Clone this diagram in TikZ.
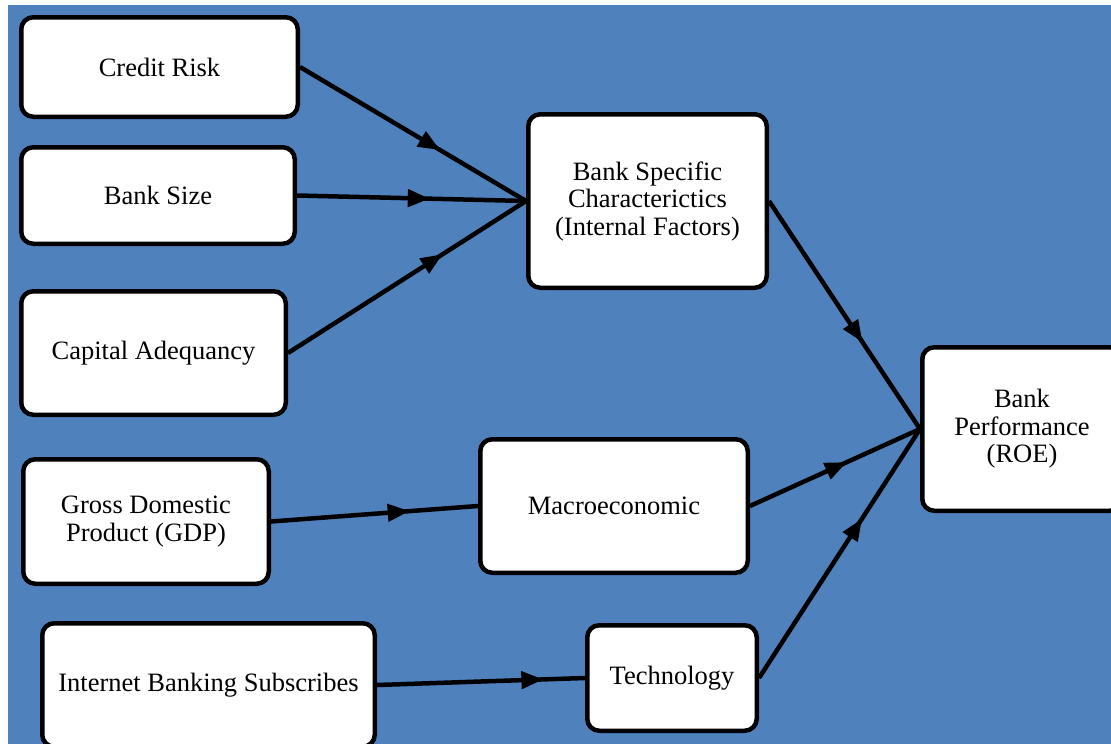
\documentclass[tikz,border=0pt]{standalone}
\usepackage{fontspec}
\setmainfont{Liberation Serif}
\usetikzlibrary{arrows.meta,decorations.markings}
\definecolor{bgblue}{RGB}{79,129,189}
\tikzset{
  box/.style={draw=black, fill=white, line width=4.5pt, rounded corners=12pt,
    align=center, inner sep=0pt, font=\fontsize{26.5}{27.5}\selectfont},
  conn/.style={line width=4.5pt, draw=black},
  midarrow/.style={postaction={decorate,decoration={markings,
    mark=at position #1 with {\arrow{Triangle[length=22pt,width=17pt]}}}}}
}
\begin{document}
\begin{tikzpicture}[x=1pt,y=-1pt]
\useasboundingbox (0,0) rectangle (1111,744);
\fill[bgblue] (8,5) rectangle (1111,744);

\node[box, minimum width=276.5pt, minimum height=99.5pt] (cr) at (159.5,67) {Credit Risk};
\node[box, minimum width=273.5pt, minimum height=96.5pt] (bs) at (158,195.5) {Bank Size};
\node[box, minimum width=264.5pt, minimum height=123.5pt] (ca) at (153.5,353) {Capital Adequancy};
\node[box, minimum width=245.5pt, minimum height=124.5pt] (gdp) at (146,521.5) {Gross Domestic\\Product (GDP)};
\node[box, minimum width=332.5pt, minimum height=123.5pt] (ibs) at (208.5,685) {Internet Banking Subscribes};
\node[box, minimum width=238.5pt, minimum height=173.5pt] (bsc) at (647.5,201) {Bank Specific\\Characterictics\\(Internal Factors)};
\node[box, minimum width=267.5pt, minimum height=133.5pt] (mac) at (614,506) {Macroeconomic};
\node[box, minimum width=169.5pt, minimum height=105.5pt] (tech) at (672,678) {Technology};
\node[box, minimum width=199.5pt, minimum height=163.5pt] (bp) at (1022,429) {Bank\\Performance\\(ROE)};

\draw[conn, midarrow=0.62] (cr.east) -- (bsc.west);
\draw[conn, midarrow=0.58] (bs.east) -- (bsc.west);
\draw[conn, midarrow=0.65] (ca.east) -- (bsc.west);
\draw[conn, midarrow=0.62] (bsc.east) -- (bp.west);
\draw[conn, midarrow=0.57] (mac.east) -- (bp.west);
\draw[conn, midarrow=0.64] (tech.east) -- (bp.west);
\draw[conn, midarrow=0.67] (gdp.east) -- (mac.west);
\draw[conn, midarrow=0.80] (ibs.east) -- (tech.west);
\end{tikzpicture}
\end{document}
